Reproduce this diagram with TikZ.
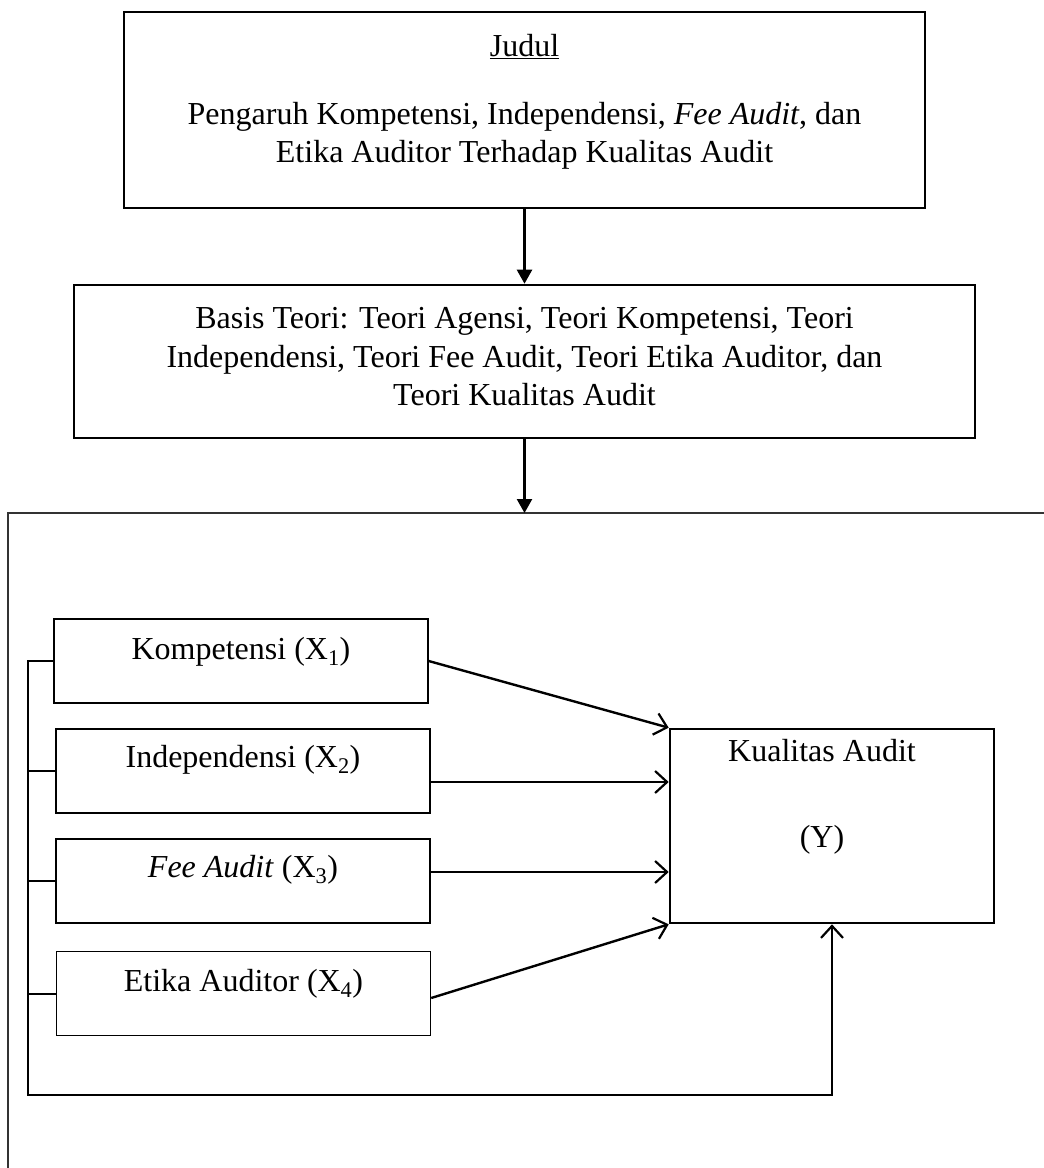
\documentclass[tikz,border=0pt]{standalone}
\usepackage{fontspec}
\setmainfont{Liberation Serif}
\usetikzlibrary{arrows.meta}
\begin{document}
\begin{tikzpicture}[x=1pt,y=-1pt,
  bigbox/.style={draw, line width=2.6pt, inner sep=0pt},
  txt/.style={font=\fontsize{32}{38.5}\selectfont, align=center, inner sep=0pt},
  xbox/.style={draw, line width=1.4pt, minimum width=374pt, minimum height=84pt, inner sep=0pt},
  solidarr/.style={line width=2.4pt, -{Triangle[length=14pt,width=15pt]}},
  openarr/.style={line width=2.4pt, -{Straight Barb[length=12pt,width=22pt,line width=2.2pt]}},
  busline/.style={line width=2pt},
  framel/.style={line width=1.5pt, black!80}]
\useasboundingbox (0,0) rectangle (1044,1168);

% top title box
\node[bigbox, minimum width=801pt, minimum height=196pt] (title) at (524.5,110) {};
\node[txt] (judul) at (524.5,47) {\underline{Judul}};
\node[txt] (titletext) at (524.5,136) {Pengaruh Kompetensi, Independensi, \textit{Fee Audit}, dan\\Etika Auditor Terhadap Kualitas Audit};

% basis box
\node[bigbox, minimum width=901pt, minimum height=153pt] (basis) at (524.5,361.5) {};
\node[txt] (basistext) at (524.5,357) {Basis Teori: Teori Agensi, Teori Kompetensi, Teori\\Independensi, Teori Fee Audit, Teori Etika Auditor, dan\\Teori Kualitas Audit};

% frame
\coordinate (frameTL) at (8,513);
\coordinate (frameTR) at (1046,513);
\coordinate (frameBL) at (8,1170);
\draw[framel] (frameTR) -- (frameTL) -- (frameBL);

\draw[solidarr] (title.south) -- (basis.north);
\draw[solidarr] (basis.south) -- (basis.south |- frameTL);

% X boxes
\node[xbox] (x1) at (241,661) {};
\node[xbox] (x2) at (243,771) {};
\node[xbox] (x3) at (243,881) {};
\node[xbox] (x4) at (243.5,993.5) {};
\node[txt] (x1t) at ([yshift=9pt]x1.center) {Kompetensi (X\textsubscript{1})};
\node[txt] (x2t) at ([yshift=11pt]x2.center) {Independensi (X\textsubscript{2})};
\node[txt] (x3t) at ([yshift=11pt]x3.center) {\textit{Fee Audit} (X\textsubscript{3})};
\node[txt] (x4t) at ([yshift=10pt]x4.center) {Etika Auditor (X\textsubscript{4})};

% Y box
\node[bigbox, minimum width=324pt, minimum height=194pt] (yb) at (832,826) {};
\node[txt] (ytop) at (822,751) {Kualitas Audit};
\node[txt] (ymid) at (822,840) {(Y)};

% bus on the left
\coordinate (bc) at (28,1095);
\draw[busline] (x2.west) -- (x2.west -| bc);
\draw[busline] (x3.west) -- (x3.west -| bc);
\draw[busline] (x4.west) -- (x4.west -| bc);
\draw[openarr] (x1.west) -| (bc) -| (yb.south);

% arrows to Y
\draw[openarr] (x1.east) -- (yb.north west);
\draw[openarr] ([yshift=-11pt]x2.east) -- ([yshift=-11pt]x2.east -| yb.west);
\draw[openarr] ([yshift=9pt]x3.east) -- ([yshift=9pt]x3.east -| yb.west);
\draw[openarr] ([yshift=-4.5pt]x4.east) -- (yb.south west);
\end{tikzpicture}
\end{document}
